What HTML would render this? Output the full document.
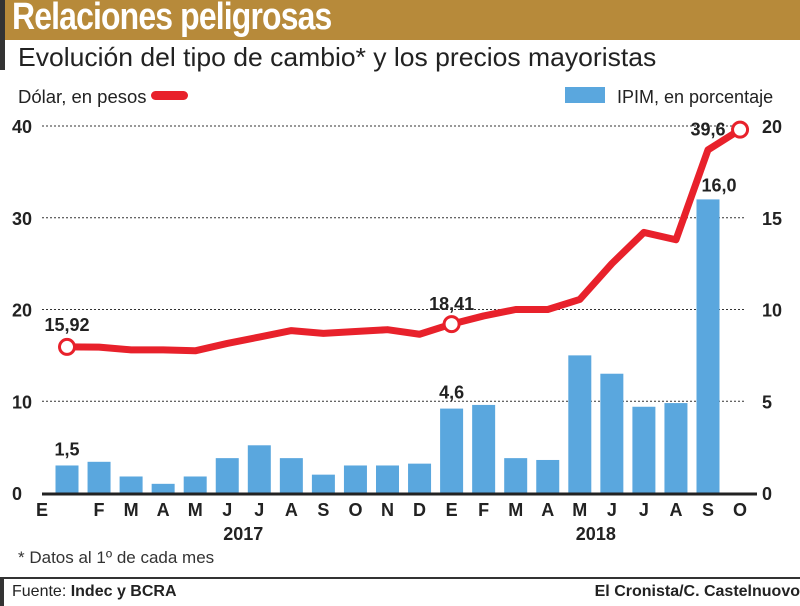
<!DOCTYPE html>
<html><head><meta charset="utf-8"><style>
body{margin:0;width:800px;height:605px;background:#fff;font-family:"Liberation Sans",sans-serif;overflow:hidden;position:relative}
.hdr{position:absolute;left:0;top:0;width:800px;height:40px;background:#b78a3a}
.ttl{position:absolute;left:12px;top:-4px;font:bold 38px "Liberation Sans Narrow","Liberation Sans",sans-serif;color:#fff;letter-spacing:-1px;transform:scaleX(.84);transform-origin:left}
.vbar{position:absolute;left:0;top:0;width:5px;height:70px;background:#333}
.sub{position:absolute;left:18px;top:42px;font-size:26px;color:#222;transform:scaleX(1.02);transform-origin:left}
svg{position:absolute;left:0;top:0}
.foot{position:absolute;left:0;top:577px;width:798px;height:27px;border-top:2px solid #333;border-left:4px solid #333;font-size:16px;color:#222}
</style></head><body>
<div class="hdr"></div>
<div class="vbar"></div>
<div class="ttl">Relaciones peligrosas</div>
<div class="sub">Evolución del tipo de cambio* y los precios mayoristas</div>
<svg id="c" width="800" height="605"></svg>
<div class="foot">
<span style="position:absolute;left:8px;top:4px">Fuente: <b>Indec y BCRA</b></span>
<span style="position:absolute;right:2px;top:4px;font-weight:bold">El Cronista/C. Castelnuovo</span>
</div>
<script>
const months=["E","F","M","A","M","J","J","A","S","O","N","D","E","F","M","A","M","J","J","A","S","O"];
const ipim=[1.5,1.7,0.9,0.5,0.9,1.9,2.6,1.9,1.0,1.5,1.5,1.6,4.6,4.8,1.9,1.8,7.5,6.5,4.7,4.9,16.0];
const dolar=[15.92,15.9,15.6,15.6,15.5,16.3,17.0,17.7,17.4,17.6,17.8,17.3,18.41,19.3,20.0,20.0,21.1,25.0,28.4,27.6,37.4,39.6];
const leftTicks=[0,10,20,30,40];
const rightTicks=[0,5,10,15,20];
const ns="http://www.w3.org/2000/svg",svg=document.getElementById("c");
const x=i=>67+i*32.05, yL=v=>493-v*9.175, yR=v=>493-v*18.35;
function mk(t,a,txt){const e=document.createElementNS(ns,t);for(const k in a)e.setAttribute(k,a[k]);if(txt!=null)e.textContent=txt;svg.appendChild(e);return e;}
const cf='"Liberation Sans Narrow","Liberation Sans",sans-serif';
let e=mk("text",{x:18,y:103,"font-size":18.5,fill:"#222","font-family":cf},"Dólar, en pesos");

e=mk("rect",{x:151,y:91,width:37,height:9,rx:4.5,fill:"#e8212b"});

e=mk("rect",{x:565,y:87,width:40,height:16,fill:"#5aa7de"});

e=mk("text",{x:617,y:103,"font-size":18,fill:"#222","font-family":cf},"IPIM, en porcentaje");

leftTicks.forEach((t,i)=>{
 const y=yL(t);
 if(t>0){e=mk("line",{x1:42,x2:745,y1:y,y2:y,stroke:"#333","stroke-dasharray":"2,2","stroke-width":1});
 }
 e=mk("text",{x:12,y:y+7,"font-size":18,"font-weight":"bold",fill:"#222","font-family":cf},t);
 
 e=mk("text",{x:762,y:yR(rightTicks[i])+7,"font-size":18,"font-weight":"bold",fill:"#222","font-family":cf},rightTicks[i]);
 
});
ipim.forEach((v,i)=>{
 e=mk("rect",{x:x(i)-11.5,y:yR(v),width:23,height:493-yR(v),fill:"#5aa7de"});
 
});
e=mk("line",{x1:42,x2:757,y1:494,y2:494,stroke:"#222","stroke-width":3});

months.forEach((m,i)=>{
 const xx=i==0?42:x(i);
 e=mk("text",{x:xx,y:516,"font-size":18,"font-weight":"bold",fill:"#222","text-anchor":"middle","font-family":cf},m);
 
});
[[x(5.5),"2017"],[x(16.5),"2018"]].forEach(([xx,t])=>{
 e=mk("text",{x:xx,y:540,"font-size":18,"font-weight":"bold",fill:"#222","text-anchor":"middle","font-family":cf},t);
 
});
e=mk("polyline",{points:dolar.map((v,i)=>x(i)+","+yL(v)).join(" "),fill:"none",stroke:"#e8212b","stroke-width":7,"stroke-linejoin":"round"});

[0,12,21].forEach(i=>{
 e=mk("circle",{cx:x(i),cy:yL(dolar[i]),r:7.5,fill:"#fff",stroke:"#e8212b","stroke-width":3});
 
});
function lbl(xx,y,t,n){e=mk("text",{x:xx,y:y,"font-size":18,"font-weight":"bold",fill:"#222","text-anchor":"middle","font-family":cf},t);
 }
lbl(x(0),yL(dolar[0])-16,"15,92","label-dolar-start");
lbl(x(12),yL(dolar[12])-14,"18,41","label-dolar-mid");
lbl(x(21)-32,yL(dolar[21])+6,"39,6","label-dolar-end");
lbl(x(0),yR(ipim[0])-10,"1,5","label-ipim-start");
lbl(x(12),yR(ipim[12])-10,"4,6","label-ipim-mid");
lbl(x(20)+11,yR(ipim[20])-8,"16,0","label-ipim-end");
e=mk("text",{x:18,y:563,"font-size":17,fill:"#333","font-family":cf},"* Datos al 1º de cada mes");

</script>
</body></html>
